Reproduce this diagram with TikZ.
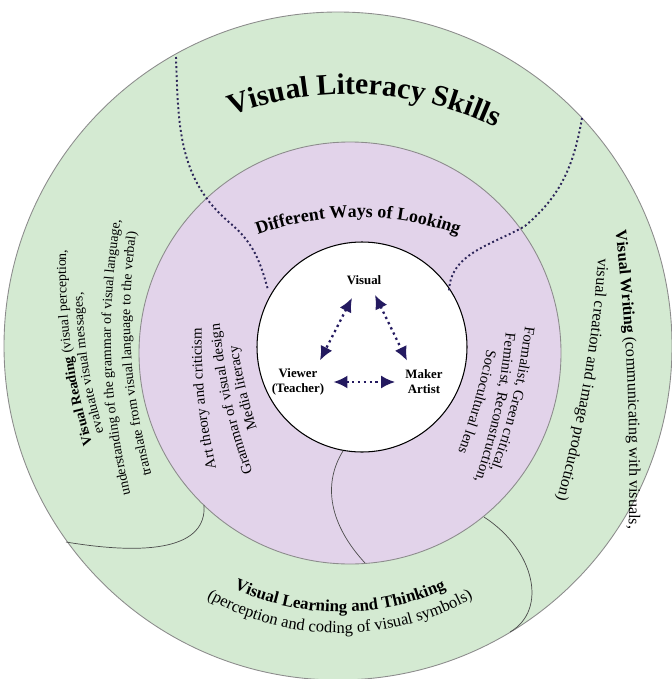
\documentclass[tikz,border=0pt]{standalone}
\usepackage{fontspec}
\setmainfont{Liberation Serif}
\usepackage{tikz}
\usetikzlibrary{decorations.text}
\usetikzlibrary{arrows.meta}
\definecolor{Ring-green}{RGB}{212,234,210}
\definecolor{Ring-purple}{RGB}{226,211,234}
\definecolor{Ring-edge}{RGB}{140,140,140}
\definecolor{Navy-dot}{RGB}{45,38,90}
\definecolor{Navy-arrow}{RGB}{36,26,96}

\newcommand{\fTitle}{\fontsize{16.9}{20}\selectfont\bfseries}
\newcommand{\fWays}{\fontsize{10.2}{12}\selectfont\bfseries}
\newcommand{\fRead}{\fontsize{7.9}{9}\selectfont}
\newcommand{\fReadB}{\fontsize{7.9}{9}\selectfont\bfseries}
\newcommand{\fWrite}{\fontsize{9.2}{11}\selectfont}
\newcommand{\fWriteB}{\fontsize{9.2}{11}\selectfont\bfseries}
\newcommand{\fLearn}{\fontsize{9.4}{11}\selectfont}
\newcommand{\fLearnB}{\fontsize{9.6}{11}\selectfont\bfseries}
\newcommand{\fLens}{\fontsize{8.4}{10}\selectfont}
\newcommand{\fInner}{\fontsize{7.3}{8.5}\selectfont\bfseries}

\begin{document}
\begin{tikzpicture}[x=0.02cm,y=0.02cm]
    \tikzset{ ring/.style    ={draw=Ring-edge, line width=0.5pt} }
    \tikzset{ core/.style    ={draw=black, line width=0.6pt, fill=white} }
    \tikzset{ sep/.style     ={draw=Navy-dot, line width=1.1pt, dash pattern=on 1.1pt off 1.5pt} }
    \tikzset{ cut/.style     ={draw=black!70, line width=0.4pt} }
    \tikzset{ arr/.style     ={draw=Navy-arrow, line width=1.3pt, dotted, <->, >={Latex[length=2.8mm,width=2.6mm]}} }
    \tikzset{ lbl/.style     ={align=center, inner sep=0pt, font=\fInner} }
    \tikzset{ arc text/.style={decorate, decoration={text along path, text align=center, text={#1}}} }

    \useasboundingbox (0,0) rectangle (672,-679);

    % rings
    \draw[ring, fill=Ring-green]  (338,-346) circle[radius=334];
    \draw[ring, fill=Ring-purple] (350,-353) circle[radius=211];
    \draw[core]                   (362,-347) circle[radius=105];

    % borders of the skill areas
    \draw[sep] (176,-57)  to[out=-88,in=140]  (230,-223) to[out=-40,in=105] (268,-290);
    \draw[sep] (582,-118) to[out=-100,in=40]  (525,-226) to[out=-150,in=90] (449,-293);
    \draw[cut] (66,-542)  .. controls (150,-556) and (207,-548) .. (204,-505);
    \draw[cut] (343,-451) .. controls (322,-485) and (330,-525) .. (365,-563);
    \draw[cut] (484,-517) .. controls (535,-550) and (548,-610) .. (510,-632);

    % outer ring
    \path[arc text={|\fTitle|Visual Literacy Skills}] (350,-432) ++(130:338) arc[start angle=130, end angle=45, radius=338];
    \path[arc text={|\fReadB|Visual Reading |\fRead|(visual perception,}]          (101,-473)   to[bend left=10] (67,-220);
    \path[arc text={|\fRead|evaluate visual messages,}]                           (115.5,-470) to[bend left=10] (82.5,-253);
    \path[arc text={|\fRead|understanding of the grammar of visual language,}]    (138,-527)   to[bend left=12] (126,-187);
    \path[arc text={|\fRead|translate from visual language to the verbal)}]       (159,-503)   to[bend left=12] (140,-203);
    \path[arc text={|\fWriteB|Visual Writing |\fWrite|(communicating with visuals,}] (612,-198) to[bend left=4] (628,-562);
    \path[arc text={|\fWrite|visual creation and image production)}]              (600,-232)   to[bend left=6]  (550,-525);
    \path[arc text={|\fLearnB|Visual Learning and Thinking}] (340,-360) ++(225:252) arc[start angle=225, end angle=315, radius=252];
    \path[arc text={|\fLearn|(perception and coding of visual symbols)}] (340,-360) ++(222:273) arc[start angle=222, end angle=318, radius=273];

    % middle ring
    \path[arc text={|\fWays|Different Ways of Looking}] (358,-507) ++(118:290) arc[start angle=118, end angle=62, radius=290];
    \path[arc text={|\fLens|Art theory and criticism}]   (222.6,-495) to[bend left=8] (202.4,-300);
    \path[arc text={|\fLens|Grammar of visual design}]   (260.4,-494) to[bend left=8] (217.6,-301);
    \path[arc text={|\fLens|Media literacy}]             (264.6,-452) to[bend left=6] (234.4,-321);
    \path[arc text={|\fLens|Formalist, Green critical,}] (527.9,-300.7) to[bend left=8] (481.1,-494.3);
    \path[arc text={|\fLens|Feminist, Reconstruction,}]  (508.1,-302.5) to[bend left=8] (464.9,-509.5);
    \path[arc text={|\fLens|Sociocultural lens}]         (491.8,-323)   to[bend left=6] (448.2,-477);

    % core
    \node[lbl] (vis)   at (364,-280) {Visual};
    \node[lbl] (view)  at (298,-382) {Viewer\\(Teacher)};
    \node[lbl] (maker) at (424,-382) {Maker\\Artist};

    \draw[arr] ([shift={(-12,-13)}]vis.south) -- ([shift={(22,8)}]view.north);
    \draw[arr] ([shift={(11,-10)}]vis.south)  -- ([shift={(-17,9)}]maker.north);
    \draw[arr, shorten <=0.18cm, shorten >=0.2cm] (view) -- (maker);
\end{tikzpicture}
\end{document}
